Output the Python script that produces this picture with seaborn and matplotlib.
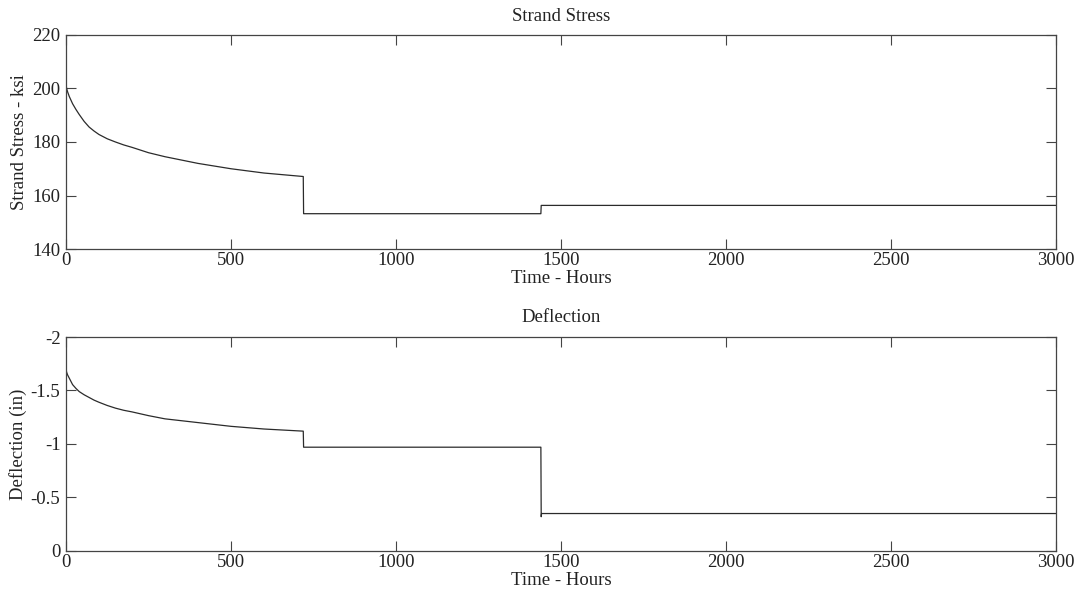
import matplotlib
matplotlib.use("Agg")
import matplotlib.pyplot as plt
import seaborn as sns
from matplotlib.ticker import FuncFormatter

# ---- data ----
stress_time = [0, 2, 5, 10, 20, 30, 40, 55, 70, 85, 100, 125, 150, 175, 200, 250, 300,
               400, 500, 600, 719, 720, 1439, 1440, 3000]
stress_ksi = [201.5, 200.0, 198.7, 197.0, 194.3, 192.2, 190.3, 187.7, 185.6, 184.1, 182.8,
              181.2, 180.0, 178.9, 178.0, 176.0, 174.5, 172.0, 170.0, 168.4, 167.1,
              153.2, 153.2, 156.3, 156.3]

defl_time = [0, 2, 5, 10, 20, 30, 40, 55, 70, 85, 100, 125, 150, 175, 200, 250, 300,
             400, 500, 600, 719, 720, 1439, 1440, 1441, 3000]
defl_in = [-1.70, -1.67, -1.645, -1.615, -1.555, -1.52, -1.49, -1.46, -1.435, -1.41,
           -1.39, -1.36, -1.335, -1.315, -1.30, -1.265, -1.235, -1.20, -1.165, -1.14,
           -1.12, -0.97, -0.97, -0.32, -0.35, -0.35]

x_ticks = [0, 500, 1000, 1500, 2000, 2500, 3000]
stress_ticks = [140, 160, 180, 200, 220]
defl_ticks = [0, -0.5, -1, -1.5, -2]

sns.set_style("white")
plt.rcParams["font.family"] = ["Liberation Serif", "DejaVu Serif"]
plt.rcParams["axes.unicode_minus"] = False

fig = plt.figure(figsize=(10.8, 5.97), dpi=100)
ax1 = fig.add_axes([0.0611, 0.5829, 0.9167, 0.3585])
ax2 = fig.add_axes([0.0611, 0.0771, 0.9167, 0.3584])

line_kw = dict(color="#2b2b2b", linewidth=0.9, estimator=None, sort=False)
sns.lineplot(x=stress_time, y=stress_ksi, ax=ax1, **line_kw)
sns.lineplot(x=defl_time, y=defl_in, ax=ax2, **line_kw)

fs = 13.5
txt = "#222222"
fmt = FuncFormatter(lambda v, p: "%g" % v)
for ax in (ax1, ax2):
    ax.set_xlim(0, 3000)
    ax.set_xticks(x_ticks)
    ax.xaxis.set_major_formatter(fmt)
    ax.yaxis.set_major_formatter(fmt)
    ax.tick_params(direction="in", length=7, width=0.8, color="#444444",
                   top=True, right=True, bottom=True, left=True,
                   labelsize=fs, labelcolor=txt)
    ax.tick_params(axis="x", pad=2)
    ax.tick_params(axis="y", pad=4)
    for s in ax.spines.values():
        s.set_visible(True)
        s.set_color("#444444")
        s.set_linewidth(0.9)
    ax.set_xlabel("Time - Hours", fontsize=fs, labelpad=1, color=txt)

ax1.set_ylim(140, 220)
ax1.set_yticks(stress_ticks)
ax1.set_ylabel("Strand Stress - ksi", fontsize=fs, labelpad=3, color=txt)
ax1.set_title("Strand Stress", fontsize=fs, pad=10, color=txt)

ax2.set_ylim(0, -2)
ax2.set_yticks(defl_ticks)
ax2.set_ylabel("Deflection (in)", fontsize=fs, labelpad=3, color=txt)
ax2.set_title("Deflection", fontsize=fs, pad=11, color=txt)

fig.savefig("out.png", dpi=100, facecolor="white")
